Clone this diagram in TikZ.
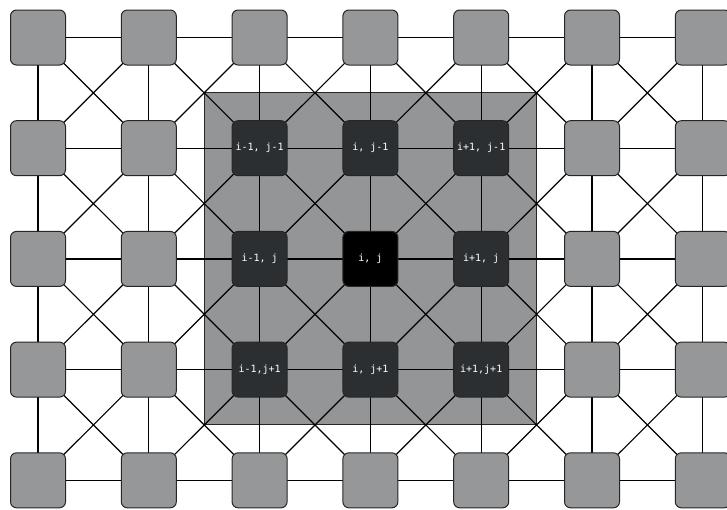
\documentclass[tikz,border=0pt]{standalone}
\usepackage{fontspec}
\newfontfamily\monof{DejaVu Sans Mono}
\usetikzlibrary{backgrounds,calc}
\definecolor{nodegray}{RGB}{150,151,152}
\definecolor{rectgray}{RGB}{147,149,150}
\definecolor{darknode}{RGB}{43,47,50}
\tikzset{
  cell/.style={draw=black!85, line width=1pt, fill=nodegray, rounded corners=6pt,
    minimum size=55pt, inner sep=0pt, font=\monof\fontsize{10}{11}\selectfont, text=white},
  innercell/.style={cell, fill=darknode},
  midcell/.style={cell, fill=black},
  link/.style={draw=black, line width=1.2pt},
  zone/.style={draw=black!85, line width=1pt, fill=rectgray}
}
\begin{document}
\begin{tikzpicture}[x=1pt,y=-1pt]
\useasboundingbox (0,0) rectangle (727,509);
\clip (0,0) rectangle (727,509);
% outer gray nodes
\foreach \c in {0,...,6}{
  \foreach \r in {0,...,4}{
    \pgfmathtruncatemacro\inside{and(and(\c>1,\c<5),and(\r>0,\r<4))}
    \ifnum\inside=0
      \node[cell] (n\c\r) at ({38+110.8*\c},{37.5+110.7*\r}) {};
    \fi
  }
}
% inner nodes
\foreach \c/\r/\t in {2/1/{i-1, j-1}, 3/1/{i, j-1}, 4/1/{i+1, j-1},
                      2/2/{i-1, j},   4/2/{i+1, j},
                      2/3/{i-1,j+1},  3/3/{i, j+1}, 4/3/{i+1,j+1}}{
  \node[innercell] (n\c\r) at ({38+110.8*\c},{37.5+110.7*\r}) {\t};
}
\node[midcell] (n32) at ({38+110.8*3},{37.5+110.7*2}) {i, j};
\begin{scope}[on background layer]
  \path[zone] ($(n21.center)+(-55.4,-55.35)$) rectangle ($(n43.center)+(55.4,55.35)$);
  \foreach \c in {0,...,6}{
    \foreach \r in {0,...,4}{
      \pgfmathtruncatemacro\cn{\c+1}
      \pgfmathtruncatemacro\rn{\r+1}
      \ifnum\c<6
        \draw[link] (n\c\r.center) -- (n\cn\r.center);
      \fi
      \ifnum\r<4
        \draw[link] (n\c\r.center) -- (n\c\rn.center);
      \fi
      \ifnum\c<6 \ifnum\r<4
        \draw[link] (n\c\r.center) -- (n\cn\rn.center);
        \draw[link] (n\cn\r.center) -- (n\c\rn.center);
      \fi\fi
    }
  }
\end{scope}
\end{tikzpicture}
\end{document}
